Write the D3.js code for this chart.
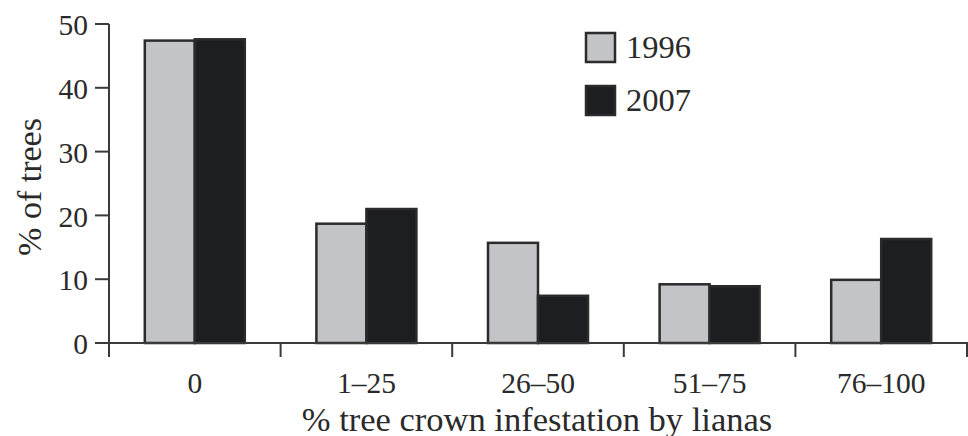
<!DOCTYPE html>
<html>
<head>
  <title>Liana infestation</title>
  <style>
    body { margin: 0; background: #fff; }
    text { font-family: "Liberation Serif", "Times New Roman", serif; fill: #2a2a2a; }
  </style>
</head>
<body>
<svg class="svg-chart" width="968" height="436"></svg>
<script src="https://cdnjs.cloudflare.com/ajax/libs/d3/7.8.5/d3.min.js"></script>
<script type="text/javascript">
  var categories = ['0', '1\u201325', '26\u201350', '51\u201375', '76\u2013100']
  var series = ['1996', '2007']
  var values1996 = [47.4, 18.7, 15.7, 9.2, 9.9]
  var values2007 = [47.6, 21.0, 7.4, 8.9, 16.3]
  var yTicks = [0, 10, 20, 30, 40, 50]

  var colors = {'1996': '#c3c4c8', '2007': '#1d1e21'}
  var valuesBySeries = {'1996': values1996, '2007': values2007}

  var svg = d3.select('.svg-chart')
  var plotLeft = 109, plotRight = 967, plotTop = 24, plotBottom = 343

  var x0 = d3.scaleBand().domain(categories).range([plotLeft, plotRight])
  var x1 = d3.scaleBand().domain(series).range([0, x0.bandwidth()]).paddingOuter(0.716)
  var y = d3.scaleLinear().domain([0, 50]).range([plotBottom, plotTop])

  // bars
  var groups = svg.append('g').selectAll('g')
    .data(categories)
    .enter()
    .append('g')
    .attr('transform', function(d){ return 'translate(' + x0(d) + ',0)' })

  groups.selectAll('rect')
    .data(function(d, i){
      return series.map(function(s){ return {s: s, v: valuesBySeries[s][i]} })
    })
    .enter()
    .append('rect')
    .attr('x', function(d){ return x1(d.s) })
    .attr('width', x1.bandwidth())
    .attr('y', function(d){ return y(d.v) })
    .attr('height', function(d){ return y(0) - y(d.v) })
    .attr('fill', function(d){ return colors[d.s] })
    .attr('stroke', '#2b2b2b')
    .attr('stroke-width', 2.5)

  // x axis
  var xAxis = svg.append('g')
    .attr('transform', 'translate(0,' + plotBottom + ')')
  xAxis.append('line')
    .attr('x1', 95).attr('x2', 968)
    .attr('stroke', '#3a3a3a').attr('stroke-width', 2)
  xAxis.selectAll('.xtick')
    .data(d3.range(categories.length + 1))
    .enter()
    .append('line')
    .attr('x1', function(i){ return i < categories.length ? x0(categories[i]) : plotRight })
    .attr('x2', function(i){ return i < categories.length ? x0(categories[i]) : plotRight })
    .attr('y1', 0).attr('y2', 14)
    .attr('stroke', '#3a3a3a').attr('stroke-width', 2)
  xAxis.selectAll('.xlabel')
    .data(categories)
    .enter()
    .append('text')
    .attr('x', function(d){ return x0(d) + x0.bandwidth() / 2 })
    .attr('y', 50)
    .attr('text-anchor', 'middle')
    .style('font-size', '29.5px')
    .text(function(d){ return d })

  // y axis
  var yAxis = svg.append('g')
  yAxis.append('line')
    .attr('x1', plotLeft).attr('x2', plotLeft)
    .attr('y1', plotTop).attr('y2', 357)
    .attr('stroke', '#3a3a3a').attr('stroke-width', 2)
  yAxis.selectAll('.ytick')
    .data(yTicks)
    .enter()
    .append('line')
    .attr('x1', 95).attr('x2', plotLeft)
    .attr('y1', function(d){ return y(d) })
    .attr('y2', function(d){ return y(d) })
    .attr('stroke', '#3a3a3a').attr('stroke-width', 2)
  yAxis.selectAll('.ylabel')
    .data(yTicks)
    .enter()
    .append('text')
    .attr('x', 88)
    .attr('y', function(d){ return y(d) })
    .attr('dy', '0.38em')
    .attr('text-anchor', 'end')
    .style('font-size', '29.5px')
    .text(function(d){ return d })

  // axis titles
  svg.append('text')
    .attr('x', 537)
    .attr('y', 431)
    .attr('text-anchor', 'middle')
    .style('font-size', '34.5px')
    .text('% tree crown infestation by lianas')

  svg.append('text')
    .attr('transform', 'translate(41,187) rotate(-90)')
    .attr('text-anchor', 'middle')
    .style('font-size', '34px')
    .text('% of trees')

  // legend
  var legend = svg.append('g').selectAll('g')
    .data(series)
    .enter()
    .append('g')
    .attr('transform', function(d, i){ return 'translate(586,' + (33 + i * 53) + ')' })
  legend.append('rect')
    .attr('width', 29).attr('height', 29)
    .attr('fill', function(d){ return colors[d] })
    .attr('stroke', '#2b2b2b')
    .attr('stroke-width', 2.5)
  legend.append('text')
    .attr('x', 40)
    .attr('y', 25)
    .style('font-size', '32.5px')
    .text(function(d){ return d })
</script>
</body>
</html>
